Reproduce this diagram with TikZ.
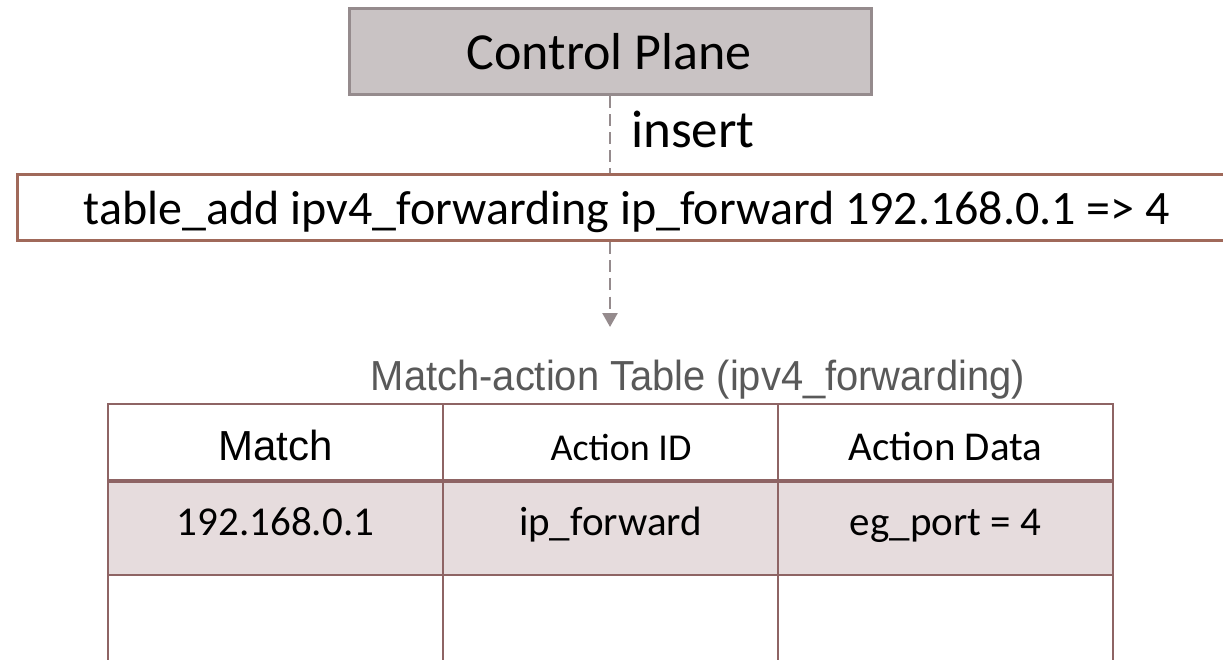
\documentclass[tikz,border=0pt]{standalone}
\usepackage{fontspec}
\setmainfont{Carlito}
\newfontfamily\arialfont{Liberation Sans}
\newfontfamily\arialtitle[FakeStretch=0.95]{Liberation Sans}
\usetikzlibrary{arrows.meta}
\definecolor{cpfill}{HTML}{C9C3C4}
\definecolor{cpline}{HTML}{958B8D}
\definecolor{cmdline}{HTML}{A0695A}
\definecolor{tabline}{HTML}{8E6464}
\definecolor{rowfill}{HTML}{E6DCDD}
\definecolor{titlegray}{HTML}{595959}
\tikzset{
  bigtxt/.style={font=\fontsize{48}{56}\selectfont},
  celltxt/.style={font=\fontsize{41}{48}\selectfont, inner sep=0pt, anchor=base},
  conn/.style={draw=cpline, line width=2.5pt, dash pattern=on 12pt off 6pt},
  grid/.style={draw=tabline, line width=2.5pt},
}
\begin{document}
\begin{tikzpicture}[x=1pt,y=-1pt]
\useasboundingbox (0,0) rectangle (1223,660);
\clip (0,0) rectangle (1223,660);
\fill[white] (0,0) rectangle (1223,660);
% control plane
\node[draw=cpline, fill=cpfill, line width=3pt, minimum width=522pt, minimum height=86pt, inner sep=0pt] (cp) at (610,52) {};
\node[font=\fontsize{52}{60}\selectfont, anchor=base, inner sep=0pt] (cpt) at (609,70) {Control Plane};
% command box
\node[draw=cmdline, line width=3pt, minimum width=1220pt, minimum height=66pt, inner sep=0pt] (cmd) at (627,208) {};
\node[bigtxt, anchor=base, inner sep=0pt] (cmdt) at (627,225) {table\_add ipv4\_forwarding ip\_forward 192.168.0.1 => 4};
\node[font=\fontsize{53}{60}\selectfont, anchor=base west, inner sep=0pt] (ins) at (631,148) {insert};
\coordinate (tip) at (610,327);
\draw[conn] (610,0 |- cp.south) -- (610,0 |- cmd.north);
\draw[conn, -{Triangle[width=15pt,length=14pt,fill=cpline]}] (610,0 |- cmd.south) -- (tip);
% title
\node[font=\arialtitle\fontsize{42}{50}\selectfont, text=titlegray, inner sep=0pt, anchor=base] (title) at (698,390) {Match-action Table (ipv4\_forwarding)};
% table
\fill[rowfill] (108,481) rectangle (1113,575);
\draw[grid] (108,700) -- (108,404) -- (1113,404) -- (1113,700);
\draw[grid] (443,404) -- (443,700);
\draw[grid] (778,404) -- (778,700);
\draw[draw=tabline, line width=4pt] (108,481) -- (1113,481);
\draw[grid] (108,575) -- (1113,575);
\node[celltxt, font=\arialfont\fontsize{42}{48}\selectfont] (h1) at (275.5,460) {Match};
\node[celltxt, font=\fontsize{38}{44}\selectfont] (h2) at (621,460) {Action ID};
\node[celltxt] (h3) at (945.5,460) {Action Data};
\node[celltxt] (c1) at (275.5,535) {192.168.0.1};
\node[celltxt] (c2) at (610.5,535) {ip\_forward};
\node[celltxt] (c3) at (945.5,535) {eg\_port = 4};
\end{tikzpicture}
\end{document}
